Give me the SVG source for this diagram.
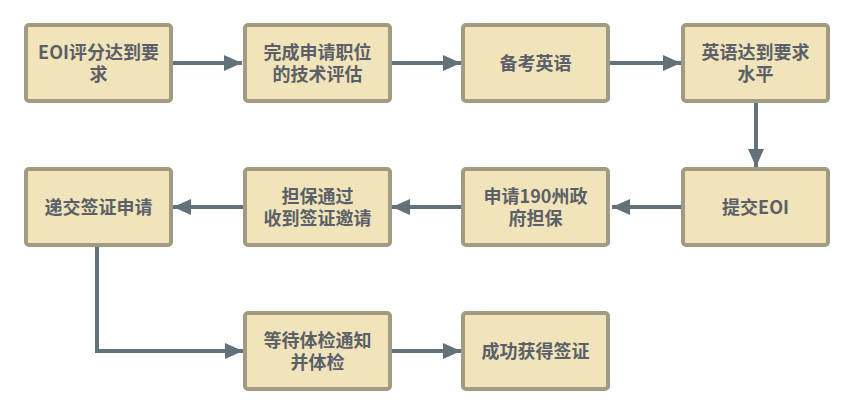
<svg xmlns="http://www.w3.org/2000/svg" width="852" height="415" viewBox="0 0 852 415">
<style>
.box{fill:#f1e4bb;stroke:#a19b84;stroke-width:4}
.t{font-family:"Microsoft YaHei","Noto Sans CJK SC","Noto Sans",sans-serif;font-size:18px;font-weight:bold;fill:#5b6068;text-anchor:middle}
.c{fill:none;stroke:#63717a;stroke-width:4}
</style>
<defs>
<marker id="ah" markerUnits="userSpaceOnUse" markerWidth="20" markerHeight="18" refX="18" refY="8" orient="auto">
<path d="M0,0 L18,8 L0,16 Z" fill="#63717a"/>
</marker>
</defs>
<rect width="852" height="415" fill="#ffffff"/>
<g id="connectors">
<path class="c" d="M173,63 H242" marker-end="url(#ah)"/>
<path class="c" d="M392,63 H461" marker-end="url(#ah)"/>
<path class="c" d="M610,63 H681" marker-end="url(#ah)"/>
<path class="c" d="M756,103 V167" marker-end="url(#ah)"/>
<path class="c" d="M681,207 H612" marker-end="url(#ah)"/>
<path class="c" d="M461,207 H392" marker-end="url(#ah)"/>
<path class="c" d="M243,207 H173" marker-end="url(#ah)"/>
<path class="c" d="M97,247 V351 H243" marker-end="url(#ah)"/>
<path class="c" d="M392,351 H461" marker-end="url(#ah)"/>
</g>
<g id="n1"><rect class="box" x="26" y="25" width="145" height="76" rx="3"/><text class="t" x="98.5" y="59">EOI评分达到要</text><text class="t" x="98.5" y="81">求</text></g>
<g id="n2"><rect class="box" x="245" y="25" width="145" height="76" rx="3"/><text class="t" x="317.5" y="59">完成申请职位</text><text class="t" x="317.5" y="81">的技术评估</text></g>
<g id="n3"><rect class="box" x="463" y="25" width="145" height="76" rx="3"/><text class="t" x="535.5" y="70">备考英语</text></g>
<g id="n4"><rect class="box" x="683" y="25" width="145" height="76" rx="3"/><text class="t" x="755.5" y="59">英语达到要求</text><text class="t" x="755.5" y="81">水平</text></g>
<g id="n5"><rect class="box" x="683" y="169" width="145" height="76" rx="3"/><text class="t" x="755.5" y="214">提交EOI</text></g>
<g id="n6"><rect class="box" x="463" y="169" width="145" height="76" rx="3"/><text class="t" x="535.5" y="203">申请190州政</text><text class="t" x="535.5" y="225">府担保</text></g>
<g id="n7"><rect class="box" x="245" y="169" width="145" height="76" rx="3"/><text class="t" x="317.5" y="203">担保通过</text><text class="t" x="317.5" y="225">收到签证邀请</text></g>
<g id="n8"><rect class="box" x="26" y="169" width="145" height="76" rx="3"/><text class="t" x="98.5" y="214">递交签证申请</text></g>
<g id="n9"><rect class="box" x="245" y="313" width="145" height="76" rx="3"/><text class="t" x="317.5" y="347">等待体检通知</text><text class="t" x="317.5" y="369">并体检</text></g>
<g id="n10"><rect class="box" x="463" y="313" width="145" height="76" rx="3"/><text class="t" x="535.5" y="358">成功获得签证</text></g>
</svg>
